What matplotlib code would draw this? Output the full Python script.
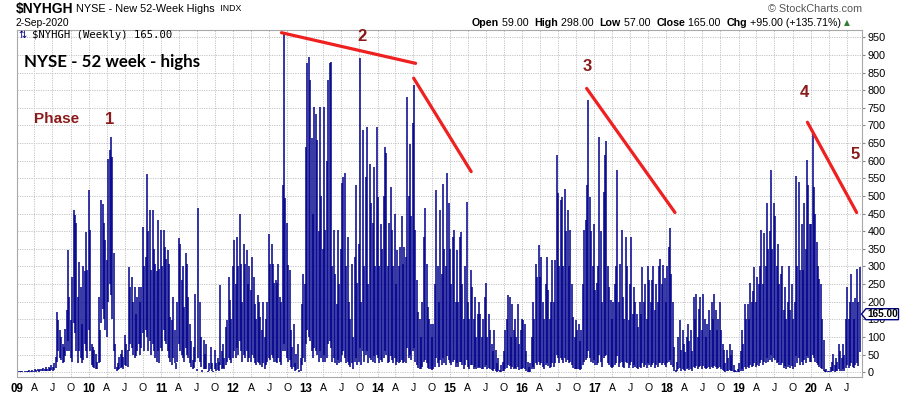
import numpy as np
import pandas as pd
import matplotlib
matplotlib.use('Agg')
import matplotlib.pyplot as plt
import matplotlib.dates as mdates
from matplotlib.patches import Polygon

# ---------------- data: weekly highs / lows of NYSE new 52-week highs ----------------
h2009 = [4, 3, 5, 3, 4, 2, 3, 5, 4, 6, 4, 7, 5, 8, 6, 9, 7, 10, 8, 12, 9, 14, 10, 16, 12, 20, 14, 25,
         44, 171, 148, 119, 100, 81, 72, 124, 176, 348, 214, 148, 270, 460, 446, 422, 214, 313, 242, 138,
         300, 286, 398, 290]
l2009 = [1, 1, 2, 1, 1, 1, 1, 2, 1, 2, 1, 2, 2, 3, 2, 3, 2, 4, 3, 4, 3, 5, 4, 5, 4, 6, 5, 7,
         12, 30, 60, 40, 35, 25, 30, 45, 60, 90, 60, 40, 30, 140, 110, 60, 25, 60, 40, 25, 35, 80, 60, 40]

h2010 = [516, 403, 81, 72, 62, 53, 30, 214, 119, 488, 478, 422, 375, 318, 606, 630, 668, 610, 337, 81,
         15, 25, 44, 53, 62, 44, 105, 81, 62, 298, 242, 270, 200, 242, 166, 214, 242, 200, 242, 411,
         300, 327, 562, 400, 460, 290, 460, 350, 308, 286, 431, 294, 403]
l2010 = [120, 60, 20, 15, 12, 10, 8, 25, 30, 140, 180, 150, 120, 100, 200, 250, 220, 150, 60, 8,
         5, 6, 10, 12, 15, 10, 20, 18, 15, 60, 80, 70, 50, 40, 45, 60, 80, 50, 70, 110,
         60, 120, 100, 60, 90, 50, 80, 60, 40, 30, 60, 25, 70]

h2011 = [300, 403, 356, 320, 346, 308, 157, 147, 214, 120, 25, 200, 380, 365, 261, 300, 185, 337, 308, 214,
         138, 90, 34, 72, 223, 10, 465, 200, 100, 6, 91, 53, 81, 5, 25, 72, 25, 3, 62, 25,
         40, 30, 247, 60, 81, 40, 129, 147, 271, 204, 150, 300]
l2011 = [60, 120, 90, 80, 60, 40, 30, 20, 40, 25, 8, 30, 80, 60, 50, 40, 30, 70, 50, 40,
         25, 15, 8, 12, 30, 3, 40, 30, 15, 2, 10, 8, 10, 1, 5, 10, 5, 1, 8, 5,
         6, 5, 20, 10, 12, 8, 20, 30, 40, 35, 25, 40]

h2012 = [375, 250, 384, 300, 450, 308, 200, 365, 308, 346, 250, 300, 233, 327, 271, 195, 150, 220, 200, 157,
         119, 200, 100, 150, 200, 393, 308, 365, 308, 252, 261, 252, 308, 214, 200, 531, 958, 493, 422, 304,
         290, 119, 72, 138, 25, 53, 81, 6, 40, 195, 280, 250]
l2012 = [60, 40, 70, 50, 90, 60, 30, 50, 40, 60, 30, 40, 30, 50, 40, 25, 20, 30, 25, 20,
         15, 25, 10, 20, 30, 40, 35, 50, 40, 30, 30, 25, 40, 30, 20, 60, 80, 60, 40, 30,
         35, 15, 8, 15, 3, 6, 10, 1, 5, 20, 40, 30]

h2013 = [640, 876, 895, 830, 665, 450, 753, 733, 658, 400, 753, 500, 350, 753, 403, 600, 830, 876, 880, 300,
         403, 280, 195, 403, 250, 350, 536, 555, 564, 300, 384, 200, 150, 308, 100, 327, 530, 252, 365, 890,
         200, 687, 300, 555, 696, 250, 592, 479, 422, 582, 300, 696]
l2013 = [80, 120, 100, 90, 60, 40, 70, 60, 50, 30, 60, 40, 30, 50, 30, 40, 80, 90, 70, 30,
         40, 25, 20, 35, 25, 30, 50, 60, 40, 25, 30, 20, 15, 25, 10, 30, 40, 20, 30, 70,
         20, 60, 30, 50, 60, 25, 40, 35, 30, 45, 25, 50]

h2014 = [498, 300, 420, 350, 500, 640, 621, 300, 422, 526, 403, 300, 450, 250, 346, 300, 356, 442, 308, 356,
         327, 781, 500, 648, 442, 706, 815, 403, 261, 170, 150, 100, 200, 384, 466, 308, 185, 150, 138, 100,
         138, 250, 517, 300, 200, 460, 280, 535, 350, 300, 564, 479]
l2014 = [40, 25, 35, 30, 40, 60, 50, 25, 30, 45, 35, 25, 40, 20, 30, 25, 30, 35, 25, 30,
         25, 70, 40, 50, 35, 60, 70, 30, 20, 12, 10, 8, 15, 30, 35, 25, 12, 10, 8, 6,
         8, 15, 40, 25, 15, 35, 20, 40, 25, 20, 45, 35]

h2015 = [350, 250, 384, 403, 200, 346, 200, 384, 398, 250, 150, 300, 483, 200, 150, 289, 242, 150, 214, 100,
         166, 200, 166, 100, 150, 214, 252, 100, 166, 120, 80, 60, 119, 62, 25, 40, 6, 20, 30, 60,
         119, 150, 218, 214, 100, 195, 119, 150, 100, 195, 80, 119]
l2015 = [25, 20, 30, 35, 15, 25, 15, 30, 30, 20, 10, 20, 35, 15, 10, 20, 20, 10, 15, 8,
         12, 15, 12, 8, 10, 15, 20, 8, 12, 10, 6, 5, 8, 5, 2, 4, 1, 2, 3, 5,
         10, 12, 20, 18, 8, 15, 10, 12, 8, 15, 6, 10]

h2016 = [150, 147, 138, 60, 30, 15, 25, 100, 200, 150, 308, 271, 360, 271, 327, 200, 150, 250, 327, 233,
         150, 200, 318, 200, 318, 616, 508, 300, 488, 498, 300, 521, 400, 460, 300, 403, 250, 157, 100, 147,
         120, 138, 90, 119, 250, 403, 432, 531, 772, 498, 400, 300, 420]
l2016 = [10, 12, 8, 4, 2, 1, 2, 8, 15, 10, 25, 20, 30, 20, 25, 15, 10, 20, 25, 18,
         12, 15, 25, 15, 25, 50, 40, 25, 40, 35, 25, 40, 30, 35, 25, 30, 20, 12, 8, 10,
         8, 10, 6, 8, 20, 30, 35, 40, 60, 40, 30, 25, 35]

h2017 = [233, 252, 300, 668, 400, 200, 512, 616, 657, 300, 242, 204, 150, 200, 250, 300, 574, 200, 308, 403,
         214, 150, 384, 300, 147, 250, 384, 166, 242, 200, 166, 129, 200, 166, 298, 200, 250, 150, 300, 261,
         200, 261, 300, 176, 250, 200, 300, 322, 250, 304, 266, 200]
l2017 = [20, 20, 25, 50, 30, 15, 40, 45, 50, 25, 20, 15, 12, 15, 20, 25, 45, 15, 25, 30,
         15, 12, 30, 25, 12, 20, 30, 12, 20, 15, 12, 10, 15, 12, 25, 15, 20, 12, 25, 20,
         15, 20, 25, 12, 20, 15, 25, 25, 20, 25, 20, 15]

h2018 = [300, 356, 409, 280, 200, 72, 6, 30, 100, 147, 62, 119, 80, 57, 100, 138, 90, 120, 60, 214,
         150, 223, 100, 180, 214, 120, 223, 150, 100, 138, 176, 120, 200, 150, 223, 176, 119, 150, 200, 119,
         80, 62, 25, 62, 40, 81, 50, 62, 20, 6, 3, 10]
l2018 = [25, 30, 35, 20, 15, 5, 1, 3, 8, 12, 5, 10, 6, 4, 8, 12, 6, 10, 5, 15,
         12, 18, 8, 15, 18, 10, 18, 12, 8, 12, 15, 10, 15, 12, 18, 15, 10, 12, 15, 10,
         6, 5, 2, 5, 3, 6, 4, 5, 2, 1, 0, 1]

h2019 = [25, 60, 119, 80, 195, 150, 195, 150, 252, 200, 230, 298, 200, 271, 250, 300, 403, 250, 394, 300,
         479, 350, 400, 574, 350, 479, 444, 300, 365, 250, 280, 300, 176, 242, 150, 200, 300, 176, 250, 150,
         200, 558, 300, 540, 290, 420, 290, 480, 350, 602, 531, 420]
l2019 = [1, 3, 8, 5, 15, 10, 15, 12, 20, 15, 18, 25, 15, 20, 18, 25, 35, 20, 30, 25,
         40, 30, 35, 50, 30, 40, 35, 25, 30, 20, 20, 25, 12, 18, 10, 15, 20, 12, 18, 10,
         15, 45, 25, 40, 20, 30, 20, 35, 25, 45, 40, 30]

h2020 = [420, 677, 526, 450, 370, 300, 265, 250, 150, 91, 6, 10, 5, 3, 15, 30, 53, 20, 40, 30,
         81, 60, 40, 81, 50, 150, 242, 150, 200, 280, 200, 150, 210, 294, 200, 298]
l2020 = [30, 50, 40, 30, 25, 20, 15, 12, 8, 4, 0, 1, 0, 0, 1, 3, 5, 2, 4, 3,
         8, 5, 4, 8, 5, 12, 20, 12, 18, 25, 15, 12, 20, 25, 18, 57]

years = [2009, 2010, 2011, 2012, 2013, 2014, 2015, 2016, 2017, 2018, 2019, 2020]
highs = [h2009, h2010, h2011, h2012, h2013, h2014, h2015, h2016, h2017, h2018, h2019, h2020]
lows = [l2009, l2010, l2011, l2012, l2013, l2014, l2015, l2016, l2017, l2018, l2019, l2020]

y_ticks = list(range(0, 951, 50))
last_close = 165.00

# annotation trend lines (start date, start value, end date, end value)
trend_lines = [("2012-09-01", 963, "2014-07-12", 876),
               ("2014-07-02", 834, "2015-04-19", 569),
               ("2016-11-23", 805, "2018-02-13", 453),
               ("2019-12-15", 709, "2020-08-20", 453)]
phase_labels = [("Phase", "2009-07-24", 717), ("1", "2010-04-17", 717),
                ("2", "2013-10-12", 951), ("3", "2016-11-28", 866),
                ("4", "2019-12-01", 793), ("5", "2020-08-11", 618)]

# ---------------- build series ----------------
dates, hi, lo = [], [], []
for y, h, l in zip(years, highs, lows):
    d = pd.date_range(start=f"{y}-01-01", periods=len(h), freq="W-FRI")
    dates.extend(d)
    hi.extend(h)
    lo.extend(l)
xd = mdates.date2num(pd.to_datetime(dates).to_pydatetime())
hi = np.array(hi, dtype=float)
lo = np.minimum(np.array(lo, dtype=float), hi)

# ---------------- figure ----------------
W, H = 900, 396
fig = plt.figure(figsize=(9.0, 3.96), dpi=100)
fig.patch.set_facecolor('white')
L, R, T, B = 16.7, 862.0, 29.5, 376.7
ax = fig.add_axes([L / W, 1 - B / H, (R - L) / W, (B - T) / H])

NAVY = '#00008b'
ax.vlines(xd, lo, hi, color=NAVY, lw=1.1)

ax.set_ylim(-12.5, 972)
ax.set_xlim(mdates.date2num(pd.Timestamp("2009-01-01")), mdates.date2num(pd.Timestamp("2020-09-16")))

# x ticks: years + quarters
tick_pos, tick_lab, tick_bold = [], [], []
for y in years:
    for m, lab in [(1, f"{y % 100:02d}"), (4, "A"), (7, "J"), (10, "O")]:
        ts = pd.Timestamp(year=y, month=m, day=1)
        if ts > pd.Timestamp("2020-09-16"):
            continue
        tick_pos.append(mdates.date2num(ts))
        tick_lab.append(lab)
        tick_bold.append(m == 1)
ax.set_xticks(tick_pos)
ax.set_xticklabels(tick_lab)
for t, b in zip(ax.get_xticklabels(), tick_bold):
    t.set_fontfamily('Liberation Sans')
    t.set_fontsize(8.3 if b else 7.6)
    t.set_fontweight('bold' if b else 'normal')
ax.tick_params(axis='x', length=0, pad=4.5)

ax.yaxis.tick_right()
ax.set_yticks(y_ticks)
ax.set_yticklabels([str(v) for v in y_ticks])
for t in ax.get_yticklabels():
    t.set_fontfamily('Liberation Sans')
    t.set_fontsize(7.8)
ax.tick_params(axis='y', length=2.5, pad=1.5, color='#888888', right=True, left=False)

ax.grid(True, color='#c4c4c4', ls=(0, (1.2, 1.2)), lw=0.7)
ax.set_axisbelow(True)
for s in ax.spines.values():
    s.set_color('#a8a8a8')
    s.set_linewidth(0.8)

# trend lines & phase labels
RED = '#ee2020'
for d0, v0, d1, v1 in trend_lines:
    ax.plot([mdates.date2num(pd.Timestamp(d0)), mdates.date2num(pd.Timestamp(d1))], [v0, v1],
            color=RED, lw=2.3, solid_capstyle='round', clip_on=False)
MAROON = '#8b1a1a'
for s, d, v in phase_labels:
    ax.text(mdates.date2num(pd.Timestamp(d)), v, s, ha='center', va='center', color=MAROON,
            fontsize=11 if s == "Phase" else 12, fontweight='bold', family='Liberation Sans')

# ---------------- header texts ----------------
def ftxt(x, y, s, **kw):
    kw.setdefault('va', 'center')
    return fig.text(x / W, 1 - y / H, s, **kw)

renderer = fig.canvas.get_renderer()

def seq(x, y, pieces):
    for s, kw in pieces:
        t = ftxt(x, y, s, **kw)
        bb = t.get_window_extent(renderer)
        x += bb.width
    return x

# last value marker (pixel position derived from the axis transform)
_, py = ax.transData.transform((0, last_close))
py = H - py
box = Polygon([(861.5 / W, 1 - py / H), (866 / W, 1 - (py - 5.4) / H), (898.5 / W, 1 - (py - 5.4) / H),
               (898.5 / W, 1 - (py + 5.6) / H), (866 / W, 1 - (py + 5.6) / H)],
              closed=True, transform=fig.transFigure, facecolor='white', edgecolor='#000080',
              lw=1.0, zorder=5)
fig.patches.append(box)
ftxt(867, py + 0.3, f"{last_close:.2f}", fontsize=7.2, fontweight='bold', family='Liberation Sans',
     zorder=6)

seq(15.5, 8.6, [("$NYHGH", dict(fontsize=10, fontweight='bold', family='Liberation Sans')),
                (" NYSE - New 52-Week Highs ", dict(fontsize=7.8, family='Liberation Sans')),
                (" INDX", dict(fontsize=6.3, family='Liberation Sans'))])
ftxt(15.5, 22.7, "2-Sep-2020", fontsize=7.4, family='Liberation Sans')
ftxt(18.0, 35.2, "⇅", fontsize=7, color=NAVY, family='DejaVu Sans')
ftxt(31.5, 35.2, "$NYHGH (Weekly) 165.00", fontsize=7.6, family='DejaVu Sans Mono')
ftxt(24.5, 61.5, "NYSE - 52 week - highs", fontsize=12.2, fontweight='bold', family='Lato')

ftxt(862, 9.3, "© StockCharts.com", ha='right', fontsize=7.8, color='#555555', family='Liberation Sans')
bold = dict(fontsize=7.7, fontweight='bold', family='Liberation Sans')
norm = dict(fontsize=7.7, family='Liberation Sans')
seq(471.5, 22.7, [("Open", bold), (" 59.00  ", norm), ("High", bold), (" 298.00  ", norm),
                  ("Low", bold), (" 57.00  ", norm), ("Close", bold), (" 165.00  ", norm),
                  ("Chg", bold), (" +95.00 (+135.71%) ", norm),
                  ("▲", dict(fontsize=5.5, color='#2e7d32', family='DejaVu Sans'))])

fig.savefig("out.png", dpi=100, facecolor='white')
